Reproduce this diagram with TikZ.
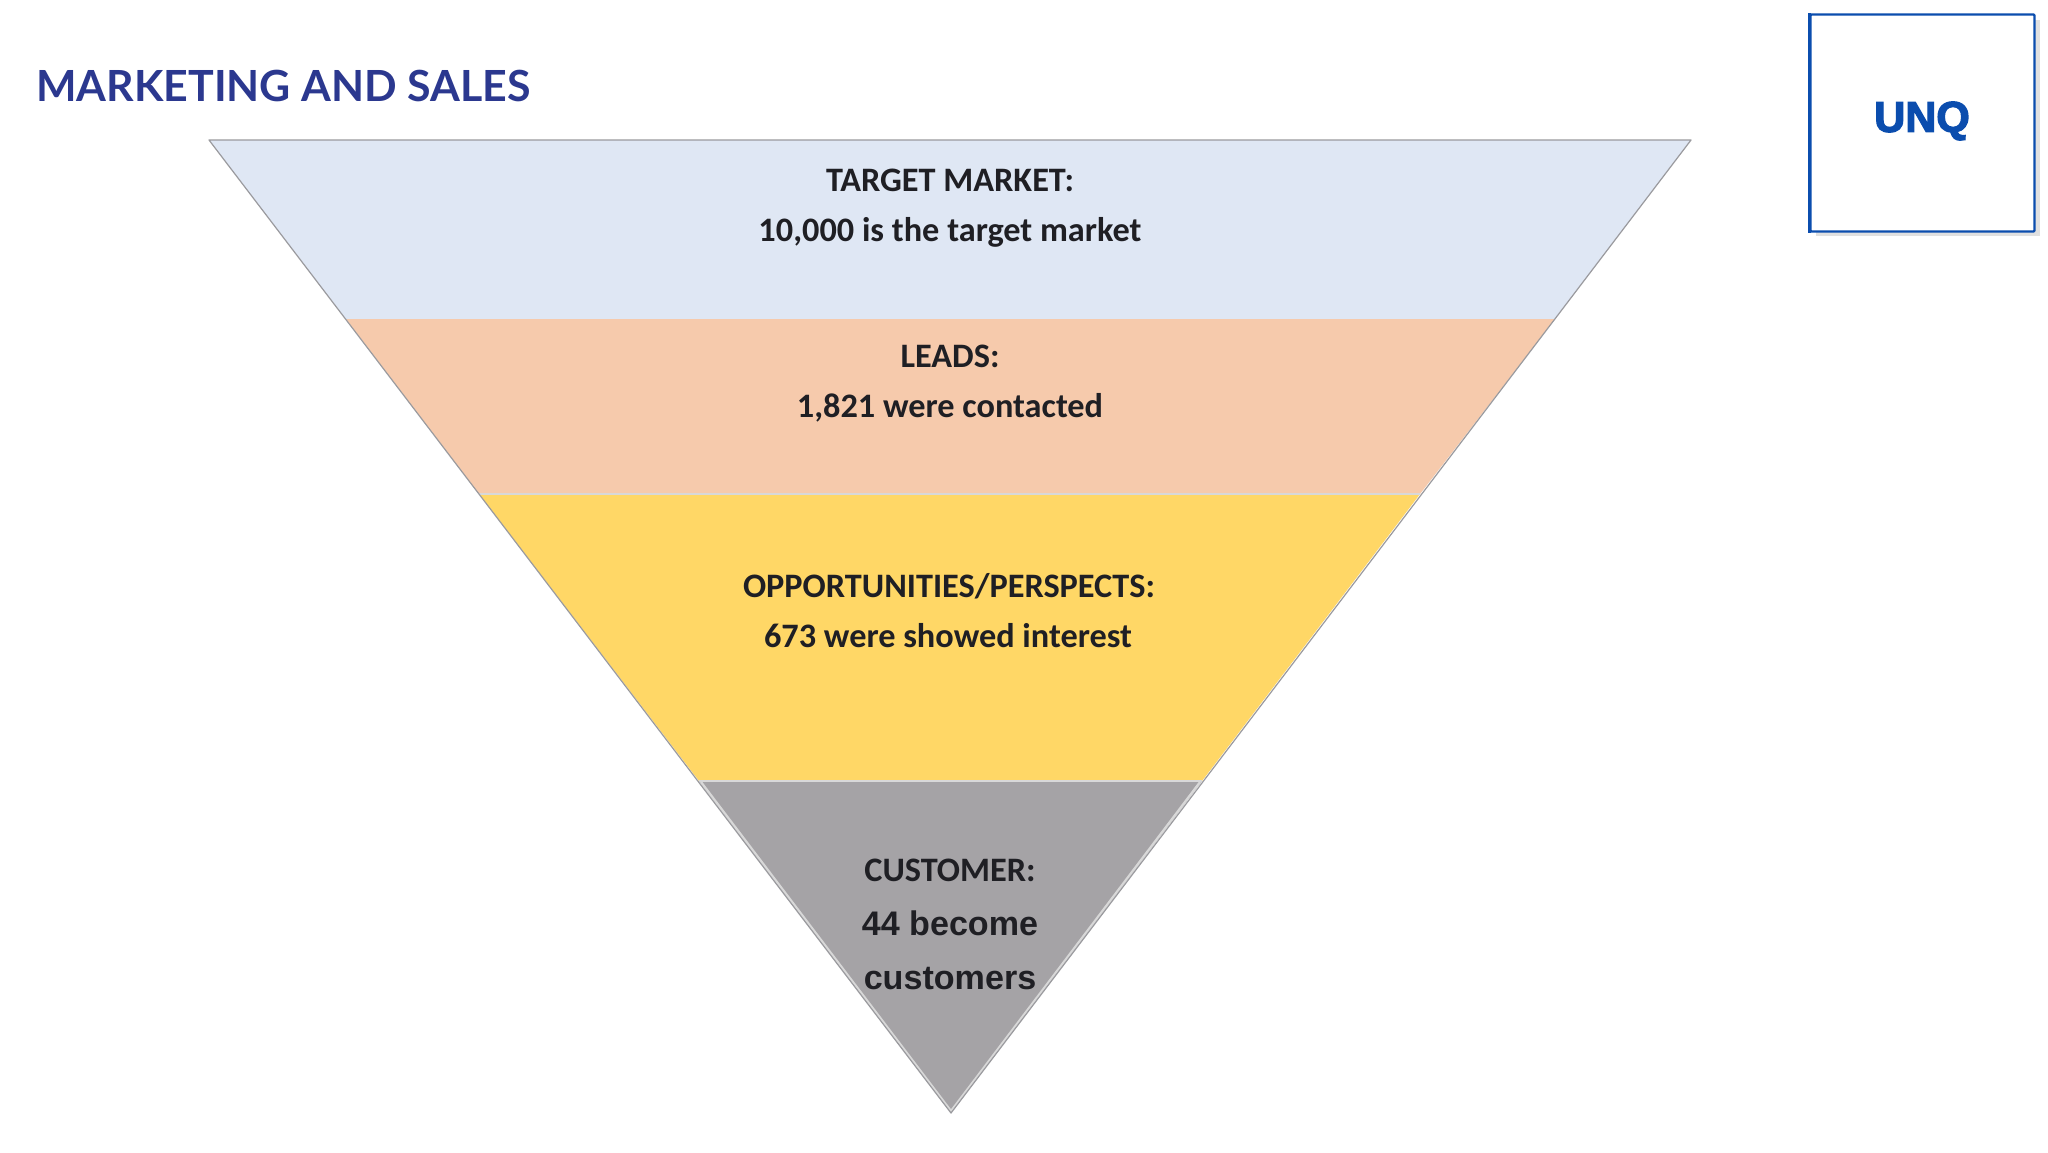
\documentclass[tikz,border=0pt]{standalone}
\usepackage{fontspec}
\setmainfont{Carlito}
\newfontfamily\arialf{Liberation Sans}
\newfontfamily\heavyf[BoldFeatures={FakeBold=3}]{Liberation Sans}
\newfontfamily\titlef{Lato}
\definecolor{bandblue}{HTML}{DFE7F4}
\definecolor{bandorange}{HTML}{F6CAAC}
\definecolor{bandyellow}{HTML}{FFD766}
\definecolor{bandgray}{HTML}{A5A3A6}
\definecolor{inktext}{HTML}{1F1F24}
\definecolor{titleblue}{HTML}{2B388F}
\definecolor{logoblue}{HTML}{0B4DAE}
\definecolor{edgegray}{HTML}{9A9A9E}
\definecolor{edgelight}{HTML}{D8D8D8}
\tikzset{
  x=0.5pt,y=-0.5pt,
  lab/.style={font=\fontsize{17.15}{19}\selectfont\bfseries,text=inktext,inner sep=0pt,anchor=base},
  labarial/.style={font=\arialf\fontsize{17.05}{19}\selectfont\bfseries,text=inktext,inner sep=0pt,anchor=base},
  sep/.style={draw=edgelight,line width=0.9pt},
  outline/.style={draw=edgegray,line width=0.6pt,line join=round},
  softedge/.style={draw=edgelight,line width=1.1pt,line join=round}
}
\begin{document}
\begin{tikzpicture}
\useasboundingbox (0,0) rectangle (2048,1152);
\fill[white] (0,0) rectangle (2048,1152);
% funnel bands
\fill[bandblue] (209,140) -- (1691,140) -- (1555,319) -- (346,319) -- cycle;
\fill[bandorange] (346,319) -- (1555,319) -- (1420,494) -- (479,494) -- cycle;
\fill[bandyellow] (479,494) -- (1420,494) -- (1202,781) -- (699,781) -- cycle;
\fill[bandgray] (699,781) -- (1202,781) -- (951,1113) -- cycle;
\draw[sep] (479,494) -- (1420,494);
\draw[sep] (699,781) -- (1202,781);
\draw[softedge] (701,782) -- (951,1111) -- (1200,782);
\draw[outline] (209,140) -- (1691,140) -- (951,1113) -- cycle;
% title
\node[font=\titlef\fontsize{21.45}{24}\selectfont\bfseries,text=titleblue,inner sep=0pt,anchor=base west] (title) at (36,101.5) {MARKETING AND SALES};
% logo box
\fill[black!12] (1816,20) rectangle (2040,236);
\node[draw=logoblue,fill=white,line width=1.2pt,minimum width=112pt,minimum height=108.5pt,inner sep=0pt,anchor=center,rounded corners=0.5pt] (logo) at (1922.5,123) {};
\draw[logoblue,line width=1.6pt] (logo.north west) -- (logo.south west);
\node[font=\heavyf\bfseries\fontsize{21.5}{24}\selectfont,text=logoblue,inner sep=0pt] (unq) at (1922,121) {UNQ};
% labels
\node[lab] (t1) at (950,191) {TARGET MARKET:};
\node[lab] (t2) at (950,241) {10,000 is the target market};
\node[lab] (l1) at (950,367) {LEADS:};
\node[lab] (l2) at (950,417) {1,821 were contacted};
\node[lab] (o1) at (949,597) {OPPORTUNITIES/PERSPECTS:};
\node[lab] (o2) at (948,647) {673 were showed interest};
\node[lab] (c1) at (950,881) {CUSTOMER:};
\node[labarial] (c2) at (950,935) {44 become};
\node[labarial] (c3) at (950,989) {customers};
\end{tikzpicture}
\end{document}
